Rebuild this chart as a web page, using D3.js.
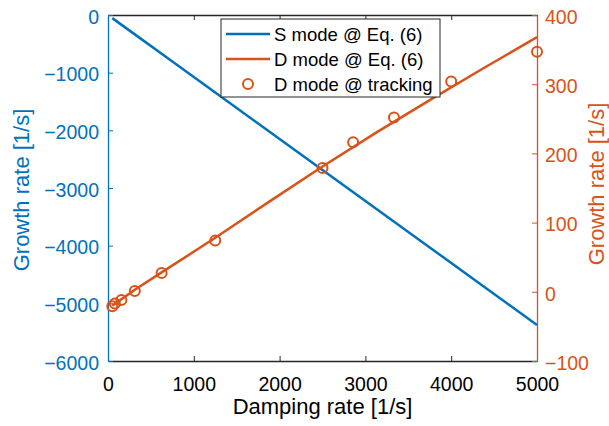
<!DOCTYPE html>
<html>
<head>
<meta charset="utf-8">
<script src="https://cdn.jsdelivr.net/npm/d3@7"></script>
<style>
  body { margin: 0; background: #fff; }
  text { font-family: "Liberation Sans", Arial, sans-serif; }
</style>
</head>
<body>
<script>
// damping rates used for the Eq. (6) curves
const eqRates = [50, 312.5, 625, 1250, 1875, 2500, 3125, 3750, 4375, 5000];
const sModeEq = [-54, -336, -672, -1344, -2016, -2688, -3359, -4031, -4703, -5375];
const dModeEq = [-20, 3, 28, 78, 130, 181, 230, 277, 323, 368];
// tracking results
const trackRates = [50, 80, 156, 312.5, 625, 1250, 2500, 2857, 3333, 4000, 5000];
const dModeTrack = [-21, -17, -12, 1, 27, 74, 179, 216, 252, 304, 347];

const xTicks = [0, 1000, 2000, 3000, 4000, 5000];
const yLeftTicks = [0, -1000, -2000, -3000, -4000, -5000, -6000];
const yRightTicks = [-100, 0, 100, 200, 300, 400];

const blue = '#0072BD';
const orange = '#D95319';
const dark = '#262626';

const width = 609, height = 426;
const margin = { top: 15, left: 108, right: 72, bottom: 65 };
const plotW = width - margin.left - margin.right;
const plotH = height - margin.top - margin.bottom;

const svg = d3.select('body').append('svg').attr('width', width).attr('height', height);
const g = svg.append('g').attr('transform', `translate(${margin.left},${margin.top})`);

const x = d3.scaleLinear().domain([0, 5000]).range([0, plotW]);
const yL = d3.scaleLinear().domain([-6000, 0]).range([plotH, 0]);
const yR = d3.scaleLinear().domain([-100, 400]).range([plotH, 0]);

function styleAxis(sel, color, size) {
  sel.select('.domain').attr('stroke', color).attr('stroke-width', 1.3);
  sel.selectAll('.tick line').attr('stroke', color).attr('stroke-width', 1);
  sel.selectAll('.tick text').attr('fill', color).style('font-size', size + 'px');
}

const fmt = d => d < 0 ? '\u2212' + Math.abs(d) : String(d);

// bottom / top
const xAxis = g.append('g').attr('transform', `translate(0,${plotH})`)
  .call(d3.axisBottom(x).tickValues(xTicks).tickSizeInner(-5).tickSizeOuter(0).tickPadding(16).tickFormat(fmt));
styleAxis(xAxis, dark, 19.5);
xAxis.selectAll('.tick text').attr('fill', '#000');
const xTop = g.append('g')
  .call(d3.axisTop(x).tickValues(xTicks).tickSizeInner(-5).tickSizeOuter(0).tickFormat(''));
styleAxis(xTop, dark, 19.5);

// left / right
const yAxisL = g.append('g')
  .call(d3.axisLeft(yL).tickValues(yLeftTicks).tickSizeInner(-5).tickSizeOuter(0).tickPadding(9).tickFormat(fmt));
styleAxis(yAxisL, blue, 19.5);
yAxisL.selectAll('.tick text').attr('dy', '0.42em');
const yAxisR = g.append('g').attr('transform', `translate(${plotW},0)`)
  .call(d3.axisRight(yR).tickValues(yRightTicks).tickSizeInner(-5).tickSizeOuter(0).tickPadding(8).tickFormat(fmt));
styleAxis(yAxisR, orange, 19.5);
yAxisR.selectAll('.tick text').attr('dy', '0.42em');

// lines
const lineL = d3.line().x((d, i) => x(eqRates[i])).y(d => yL(d));
const lineR = d3.line().x((d, i) => x(eqRates[i])).y(d => yR(d));
g.append('path').datum(sModeEq).attr('d', lineL)
  .attr('fill', 'none').attr('stroke', blue).attr('stroke-width', 2.5);
g.append('path').datum(dModeEq).attr('d', lineR)
  .attr('fill', 'none').attr('stroke', orange).attr('stroke-width', 2.5);
g.selectAll('circle.track').data(dModeTrack).enter().append('circle')
  .attr('class', 'track')
  .attr('cx', (d, i) => x(trackRates[i]))
  .attr('cy', d => yR(d))
  .attr('r', 5)
  .attr('fill', 'none').attr('stroke', orange).attr('stroke-width', 2);

// axis labels
svg.append('text').attr('text-anchor', 'middle')
  .attr('x', margin.left + plotW / 2).attr('y', 414)
  .style('font-size', '22px').attr('fill', '#000')
  .text('Damping rate [1/s]');
svg.append('text').attr('text-anchor', 'middle')
  .attr('transform', `translate(29,${margin.top + plotH / 2 + 2})rotate(-90)`)
  .style('font-size', '22px').attr('fill', blue)
  .text('Growth rate [1/s]');
svg.append('text').attr('text-anchor', 'middle')
  .attr('transform', `translate(604,${margin.top + plotH / 2 - 4})rotate(-90)`)
  .style('font-size', '22px').attr('fill', orange)
  .text('Growth rate [1/s]');

// legend
const legend = svg.append('g').attr('transform', 'translate(221,19)');
legend.append('rect').attr('width', 219).attr('height', 78)
  .attr('fill', '#fff').attr('stroke', dark).attr('stroke-width', 1);
const entries = [
  { label: 'S mode @ Eq. (6)', color: blue, type: 'line' },
  { label: 'D mode @ Eq. (6)', color: orange, type: 'line' },
  { label: 'D mode @ tracking', color: orange, type: 'circle' }
];
entries.forEach((e, i) => {
  const cy = 15 + i * 25;
  if (e.type === 'line') {
    legend.append('line').attr('x1', 5).attr('x2', 49).attr('y1', cy).attr('y2', cy)
      .attr('stroke', e.color).attr('stroke-width', 2.5);
  } else {
    legend.append('circle').attr('cx', 27).attr('cy', cy).attr('r', 5)
      .attr('fill', 'none').attr('stroke', e.color).attr('stroke-width', 2);
  }
  legend.append('text').attr('x', 53).attr('y', cy + 6.5)
    .style('font-size', '18.5px').attr('fill', '#000').text(e.label);
});
</script>
</body>
</html>
